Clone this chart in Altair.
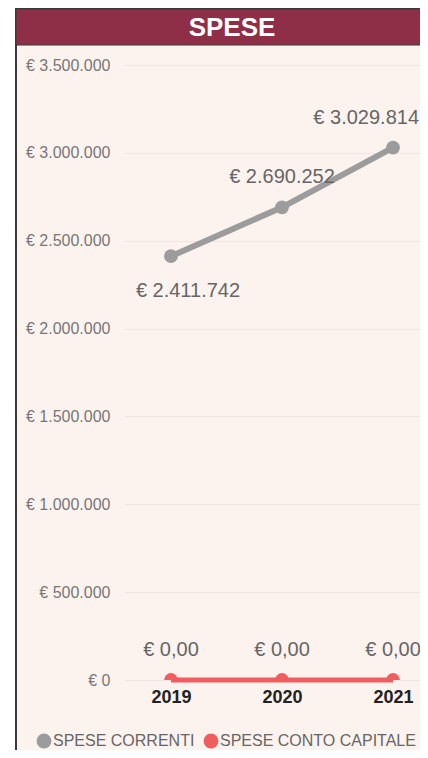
import altair as alt
import pandas as pd

years = [2019, 2020, 2021]
spese_correnti = [2411742, 2690252, 3029814]
spese_conto_capitale = [0, 0, 0]
series_names = ["SPESE CORRENTI", "SPESE CONTO CAPITALE"]
series_colors = ["#9C9C9C", "#EF5D5F"]
y_ticks = [0, 500000, 1000000, 1500000, 2000000, 2500000, 3000000, 3500000]
title_text = "SPESE"

rows = []
for name, vals in zip(series_names, [spese_correnti, spese_conto_capitale]):
    for y, v in zip(years, vals):
        rows.append({"anno": y, "serie": name, "valore": v})
df = pd.DataFrame(rows)

FONT = "Liberation Sans"
BG = "#FCF3EF"

x_enc = alt.X("anno:Q", scale=alt.Scale(domain=[2018.586, 2021.243], nice=False, zero=False),
              axis=alt.Axis(title=None, values=years, format="d", labelAngle=0, labelFont=FONT,
                            labelFontSize=18, labelFontWeight="bold", labelColor="#222222",
                            domain=False, ticks=False, labelPadding=8, grid=False,
                            labelFlush=False))
y_enc = alt.Y("valore:Q", scale=alt.Scale(domain=[0, 3500000], nice=False, zero=True),
              axis=alt.Axis(title=None, values=y_ticks, format="$,.0f", labelFont=FONT,
                            labelFontSize=16, labelColor="#777777", domain=False, ticks=False,
                            labelPadding=15, gridColor="#EFE4E0", gridWidth=1))
color_scale = alt.Scale(domain=series_names, range=series_colors)

base = alt.Chart(df)

one = alt.Chart(pd.DataFrame({"k": [0]}))
white_strip = one.mark_rect(fill="white").encode(
    x=alt.value(-117), x2=alt.value(-110), y=alt.value(-57), y2=alt.value(700))
border = one.mark_rect(fill=BG, fillOpacity=0, stroke="#3A3A3A", strokeWidth=2).encode(
    x=alt.value(-109), x2=alt.value(330), y=alt.value(-56), y2=alt.value(720))
title_bar = one.mark_rect(fill="#8F2E47", stroke="#3A3A3A", strokeWidth=1).encode(
    x=alt.value(-109), x2=alt.value(330), y=alt.value(-56), y2=alt.value(-20))
title = one.mark_text(text=title_text, font=FONT, fontSize=26, fontWeight="bold",
                      color="white", baseline="middle", align="center").encode(
    x=alt.value(107), y=alt.value(-37))

gray = base.transform_filter(alt.datum.serie == series_names[0])
red = base.transform_filter(alt.datum.serie == series_names[1])

gray_line = gray.mark_line(strokeWidth=6, color=series_colors[0]).encode(x=x_enc, y=y_enc)
red_line = red.mark_line(strokeWidth=5, color=series_colors[1]).encode(x=x_enc, y=y_enc)

points = base.mark_point(filled=True, size=190, opacity=1, clip=False).encode(
    x=x_enc, y=y_enc,
    color=alt.Color("serie:N", scale=color_scale,
                    legend=alt.Legend(title=None, orient="none", legendX=-89, legendY=668,
                                      direction="horizontal", symbolType="circle",
                                      symbolSize=220, symbolOpacity=1, labelFont=FONT,
                                      labelFontSize=16, labelColor="#666666",
                                      columnPadding=8, labelOffset=1, symbolStrokeWidth=0,
                                      labelLimit=400)))
gray_points = points.transform_filter(alt.datum.serie == series_names[0])
red_points = red.mark_point(filled=True, size=190, opacity=1, clip=True,
                            color=series_colors[1]).encode(x=x_enc, y=y_enc)

lbl = dict(font=FONT, fontSize=20, color="#666666", baseline="middle")
t2019 = gray.transform_filter(alt.datum.anno == 2019).mark_text(dy=35, dx=17, align="center", **lbl).encode(
    x=x_enc, y=y_enc, text=alt.Text("valore:Q", format="$,.0f"))
t2020 = gray.transform_filter(alt.datum.anno == 2020).mark_text(dy=-30, align="center", **lbl).encode(
    x=x_enc, y=y_enc, text=alt.Text("valore:Q", format="$,.0f"))
t2021 = gray.transform_filter(alt.datum.anno == 2021).mark_text(dy=-30, dx=26, align="right", **lbl).encode(
    x=x_enc, y=y_enc, text=alt.Text("valore:Q", format="$,.0f"))
tred = red.mark_text(dy=-30, align="center", **lbl).encode(
    x=x_enc, y=y_enc, text=alt.Text("valore:Q", format="$,.2f"))

chart = alt.layer(
    white_strip, border, title_bar, title,
    gray_line, red_line, gray_points, red_points,
    t2019, t2020, t2021, tred,
).properties(
    width=295, height=615,
    autosize=alt.AutoSizeParams(type="none"),
    padding={"left": 117, "top": 57, "right": 0, "bottom": 70},
    background=BG,
).configure(
    locale={"number": {"decimal": ",", "thousands": ".", "grouping": [3],
                       "currency": ["€ ", ""]}}
).configure_view(stroke=None)

chart.save("out.html", embed_options={"renderer": "svg", "actions": False})
